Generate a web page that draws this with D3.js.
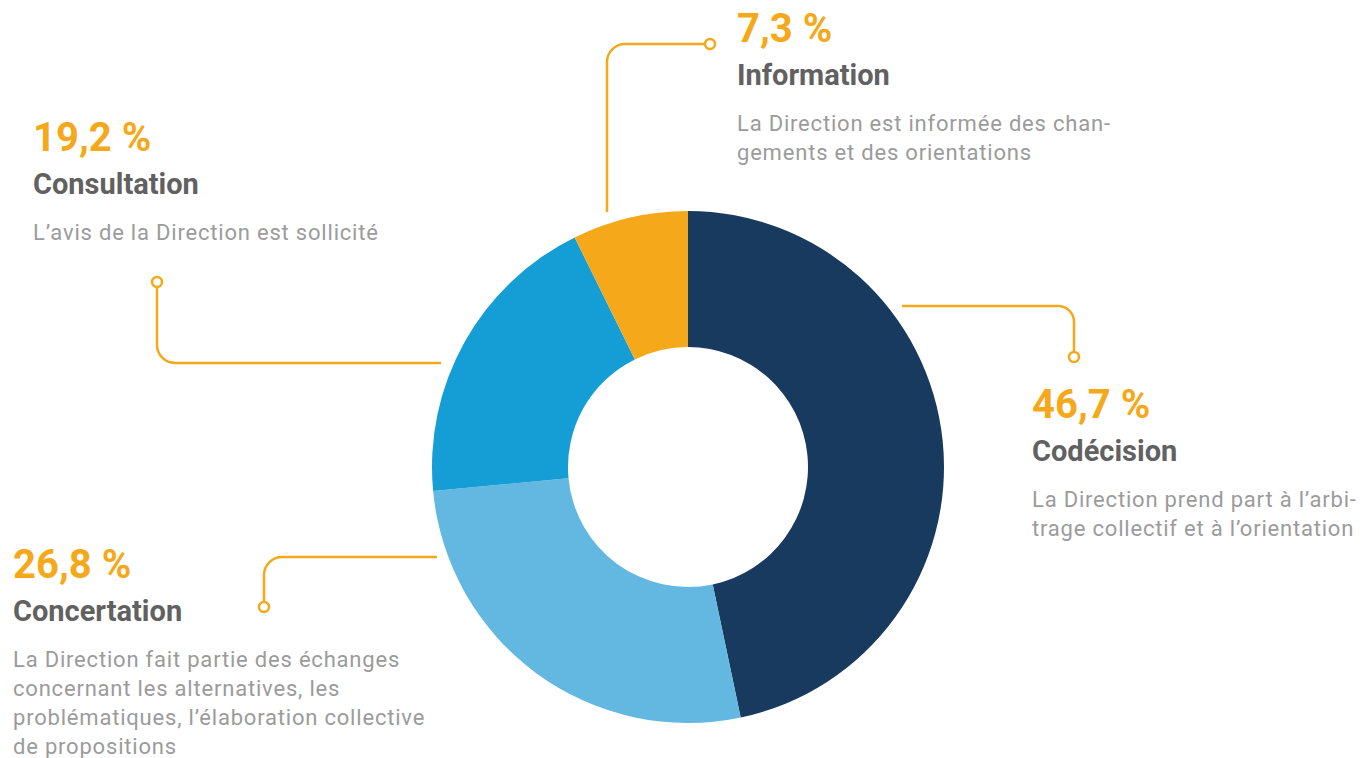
<!DOCTYPE html>
<html lang="fr">
<head>
<meta charset="utf-8">
<script src="https://cdn.jsdelivr.net/npm/d3@7"></script>
<style>
  html, body { margin: 0; padding: 0; background: #ffffff; }
  svg { display: block; font-family: Roboto, "Noto Sans", sans-serif; }
</style>
</head>
<body>
<svg id="chart" width="1370" height="758"></svg>
<script>
// Répartition des niveaux d'implication de la Direction
const categories = ["Codécision", "Concertation", "Consultation", "Information"];
const shares = [46.7, 26.8, 19.2, 7.3];
const descriptions = [
  ["La Direction prend part à l’arbi-", "trage collectif et à l’orientation"],
  ["La Direction fait partie des échanges", "concernant les alternatives, les", "problématiques, l’élaboration collective", "de propositions"],
  ["L’avis de la Direction est sollicité"],
  ["La Direction est informée des chan-", "gements et des orientations"]
];
const sliceColors = ["#173a5e", "#62b8e0", "#159dd5", "#f5a81a"];

const ORANGE = "#f5a81a";
const svg = d3.select("#chart");
const cx = 688, cy = 467, rOuter = 256, rInner = 120;

const pie = d3.pie().value(d => d).sort(null);
const arc = d3.arc().innerRadius(rInner).outerRadius(rOuter);
const arcs = pie(shares);

svg.append("g")
  .attr("transform", `translate(${cx},${cy})`)
  .selectAll("path")
  .data(arcs)
  .join("path")
  .attr("d", arc)
  .attr("fill", (d, i) => sliceColors[i]);

// Leader lines with rounded corners ending in a small ring
const leaders = [
  { d: "M902,306 H1058 A16,16 0 0 1 1074,322 V352", dot: [1074, 357] },
  { d: "M437,557 H282 A18,18 0 0 0 264,575 V602", dot: [264, 607] },
  { d: "M441,363 H175 A18,18 0 0 1 157,345 V287", dot: [157, 282] },
  { d: "M607,212 V62 A18,18 0 0 1 625,44 H705", dot: [710, 44] }
];
const lg = svg.append("g");
lg.selectAll("path").data(leaders).join("path")
  .attr("d", d => d.d)
  .attr("fill", "none")
  .attr("stroke", ORANGE)
  .attr("stroke-width", 2.5);
lg.selectAll("circle").data(leaders).join("circle")
  .attr("cx", d => d.dot[0]).attr("cy", d => d.dot[1])
  .attr("r", 5)
  .attr("fill", "#fff")
  .attr("stroke", ORANGE)
  .attr("stroke-width", 2.5);

// Text blocks: percentage, title, description
const blocks = [
  { x: 1032, y: 418 },
  { x: 13, y: 578 },
  { x: 33, y: 151 },
  { x: 737, y: 42 }
];
const fmt = v => d3.format(".1f")(v).replace(".", ",") + " %";

const tg = svg.append("g").selectAll("g").data(categories).join("g")
  .attr("transform", (d, i) => `translate(${blocks[i].x},${blocks[i].y})`);

tg.append("text")
  .attr("fill", ORANGE)
  .attr("font-size", 40)
  .attr("font-weight", 700)
  .text((d, i) => fmt(shares[i]));

tg.append("text")
  .attr("y", 43)
  .attr("fill", "#616161")
  .attr("font-size", 29)
  .attr("font-weight", 700)
  .text(d => d);

tg.append("text")
  .attr("fill", "#9b9b9b")
  .attr("font-size", 22)
  .attr("letter-spacing", 0.8)
  .selectAll("tspan")
  .data((d, i) => descriptions[i])
  .join("tspan")
  .attr("x", 0)
  .attr("y", (d, j) => 89 + j * 29)
  .text(d => d);
</script>
</body>
</html>
